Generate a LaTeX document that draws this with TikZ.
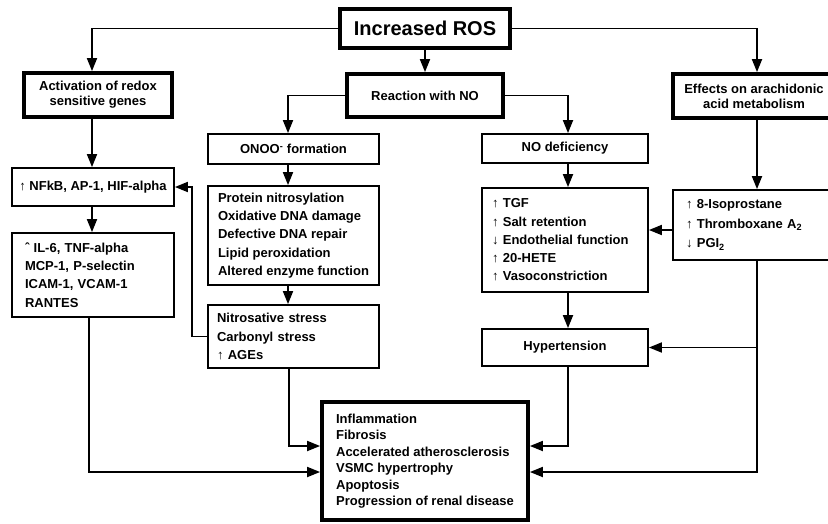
\documentclass[tikz,border=0pt]{standalone}
\usepackage{fontspec}
\setmainfont{Liberation Sans}
\usetikzlibrary{arrows.meta,positioning,calc}

\tikzset{
  rnode/.style={
    draw, line width=1.8pt, inner sep=0pt, align=center,
    font=\fontsize{13}{18.3}\selectfont\bfseries
  },
  plainbox/.style={rnode},
  headbox/.style={rnode, line width=3.8pt, font=\fontsize{13}{15}\selectfont\bfseries},
  listbox/.style={rnode, align=left},
  link/.style={-{Triangle[length=13pt,width=10pt]}, line width=1.8pt}
}
\newcommand{\upa}{{\mdseries ↑}\ }
\newcommand{\dna}{{\mdseries ↓}\ }

\begin{document}
\begin{tikzpicture}[x=1pt, y=-1pt]
  \useasboundingbox (0,0) rectangle (828,523);
  \clip (0,0) rectangle (828,523);

  % top level
  \node[headbox, minimum width=170pt, minimum height=39pt, font=\fontsize{20}{24}\selectfont\bfseries] (ros) at (425,28.5) {Increased ROS};
  \node[headbox, minimum width=148pt, minimum height=44pt] (act) at (98,95) {Activation of redox\\sensitive genes};
  \node[headbox, minimum width=156pt, minimum height=43pt] (rno) at (425,95.5) {Reaction with NO};
  \node[headbox, minimum width=162pt, minimum height=44pt] (eff) at (754,96) {Effects on arachidonic\\acid metabolism};

  % redox genes
  \node[plainbox, minimum width=162pt, minimum height=38pt] (nfkb) at (93,187) {\upa NFkB, AP-1, HIF-alpha};
  \node[listbox, minimum width=162pt, minimum height=84pt, text width=136pt] (il6) at (93,275) {ˆ IL-6, TNF-alpha\\MCP-1, P-selectin\\ICAM-1, VCAM-1\\RANTES};

  % reaction with NO
  \node[plainbox, minimum width=171pt, minimum height=30pt] (onoo) at (293.5,149) {ONOO\textsuperscript{-} formation};
  \node[listbox, minimum width=171pt, minimum height=99pt] (prot) at (293.5,235.5) {Protein nitrosylation\\Oxidative DNA damage\\Defective DNA repair\\Lipid peroxidation\\Altered enzyme function};
  \node[listbox, minimum width=171pt, minimum height=63pt, text width=153pt] (nitro) at (293.5,336.5) {Nitrosative stress\\Carbonyl stress\\\upa AGEs};
  \node[plainbox, minimum width=166pt, minimum height=29pt] (nodef) at (565,148.5) {NO deficiency};
  \node[listbox, minimum width=166pt, minimum height=104pt, text width=146pt] (tgf) at (565,240) {\upa TGF\\\upa Salt retention\\\dna Endothelial function\\\upa 20-HETE\\\upa Vasoconstriction};
  \node[plainbox, minimum width=166pt, minimum height=37pt] (hyp) at (565,347.5) {Hypertension};

  % arachidonic acid
  \node[listbox, minimum width=162pt, minimum height=70pt, text width=136pt, font=\fontsize{13}{19.5}\selectfont\bfseries] (iso) at (754,225) {\upa 8-Isoprostane\\\upa Thromboxane A\textsubscript{2}\\\dna PGI\textsubscript{2}};

  % outcome
  \node[headbox, align=left, minimum width=206pt, minimum height=118pt, font=\fontsize{13}{16.5}\selectfont\bfseries] (out) at (425,461) {Inflammation\\Fibrosis\\Accelerated atherosclerosis\\VSMC hypertrophy\\Apoptosis\\Progression of renal disease};

  \draw[link] (ros.west) -| ([xshift=-6pt]act.north);
  \draw[link] (ros) -- (rno);
  \draw[link] (ros.east) -| ([xshift=3pt]eff.north);
  \draw[link] (rno.west) -| ([xshift=-5.5pt]onoo.north);
  \draw[link] (rno.east) -| ([xshift=3pt]nodef.north);

  \draw[link] ([xshift=-6pt]act.south) -- ([xshift=-6pt]act.south |- nfkb.north);
  \draw[link] ([xshift=-1pt]nfkb.south) -- ([xshift=-1pt]il6.north);
  \draw[link] ([xshift=-5.5pt]onoo.south) -- ([xshift=-5.5pt]prot.north);
  \draw[link] ([xshift=-5.5pt]prot.south) -- ([xshift=-5.5pt]nitro.north);
  \draw[link] (nitro.west) -- ++(-15,0) |- (nfkb.east);
  \draw[link] ([xshift=3pt]nodef.south) -- ([xshift=3pt]tgf.north);
  \draw[link] ([xshift=3pt]tgf.south) -- ([xshift=3pt]hyp.north);
  \draw[link] ([xshift=3pt]eff.south) -- ([xshift=3pt]iso.north);
  \draw[link] ([yshift=-5pt]iso.west) -- ([yshift=-5pt]iso.west -| tgf.east);
  \draw[link] ([xshift=3pt]iso.south |- hyp.east) -- (hyp.east);

  \draw[link] ([xshift=-4pt]il6.south) |- ([yshift=-11pt]out.west);
  \draw[link] ([xshift=-4.5pt]nitro.south) |- ([yshift=15pt]out.west);
  \draw[link] ([xshift=3pt]hyp.south) |- ([yshift=15pt]out.east);
  \draw[link] ([xshift=3pt]iso.south) |- ([yshift=-11pt]out.east);
\end{tikzpicture}
\end{document}
